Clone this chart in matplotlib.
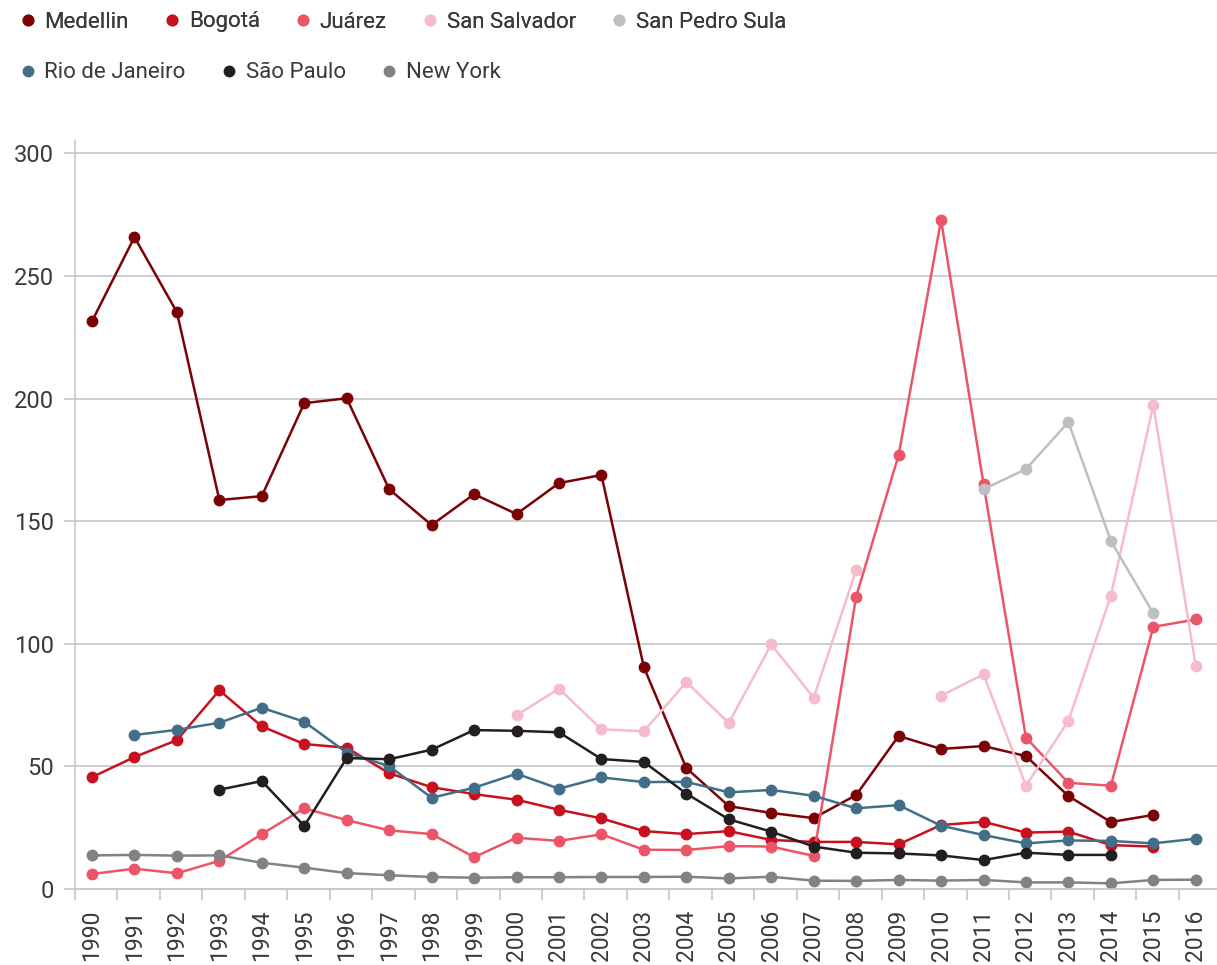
"""Homicide rates per 100k, selected cities 1990-2016."""
import numpy as np
import matplotlib
matplotlib.use("Agg")
import matplotlib.pyplot as plt
from matplotlib.lines import Line2D

plt.rcParams["font.family"] = ["Roboto", "DejaVu Sans"]

years = [str(y) for y in range(1990, 2017)]
N = None

medellin = [231.5, 265.8, 235.2, 158.6, 160.2, 198.1, 200.1, 163.0, 148.4, 161.0,
            152.9, 165.5, 168.8, 90.4, 49.3, 33.8, 31.0, 28.9, 38.3, 62.4,
            57.1, 58.3, 54.2, 37.9, 27.3, 30.2, N]
bogota = [45.6, 53.8, 60.7, 81.0, 66.3, 59.1, 57.6, 47.2, 41.5, 38.7,
          36.4, 32.3, 28.8, 23.6, 22.4, 23.6, 20.0, 19.2, 19.2, 18.2,
          26.1, 27.4, 23.0, 23.4, 17.9, 17.3, N]
juarez = [6.1, 8.3, 6.4, 11.5, 22.4, 32.9, 28.1, 23.9, 22.4, 13.0,
          20.9, 19.6, 22.3, 16.0, 15.9, 17.5, 17.3, 13.5, 119.2, 176.9,
          272.8, 165.1, 61.7, 43.3, 42.1, 106.9, 109.9]
san_salvador = [N, N, N, N, N, N, N, N, N, N,
                70.8, 81.7, 65.1, 64.3, 84.4, 67.7, 99.7, 78.0, 130.0, N,
                78.8, 87.5, 42.1, 68.6, 119.6, 197.3, 90.9]
san_pedro_sula = [N] * 21 + [163.0, 171.2, 190.4, 141.9, 112.4, N]
rio = [N, 62.8, 64.9, 67.8, 73.9, 68.2, 55.6, 50.1, 37.2, 41.3,
       47.0, 40.9, 45.5, 43.6, 43.7, 39.4, 40.4, 38.0, 32.9, 34.2,
       25.8, 22.0, 18.6, 19.8, 19.6, 18.6, 20.5]
sao_paulo = [N, N, N, 40.5, 44.0, 25.7, 53.4, 52.9, 56.8, 64.8,
             64.5, 63.9, 53.0, 51.8, 38.9, 28.4, 23.4, 17.3, 14.8, 14.5,
             13.7, 11.8, 14.8, 13.9, 13.9, N, N]
new_york = [13.7, 13.9, 13.6, 13.7, 10.7, 8.7, 6.5, 5.6, 4.9, 4.6,
            4.8, 4.8, 4.9, 4.9, 5.0, 4.3, 5.0, 3.4, 3.3, 3.7,
            3.4, 3.7, 2.7, 2.7, 2.3, 3.7, 3.8]

series = [
    ("Medellin", medellin, "#7b0306"),
    ("Bogotá", bogota, "#c8111f"),
    ("Juárez", juarez, "#ec5568"),
    ("San Salvador", san_salvador, "#f6bccb"),
    ("San Pedro Sula", san_pedro_sula, "#bfbfc3"),
    ("Rio de Janeiro", rio, "#426f87"),
    ("São Paulo", sao_paulo, "#231f20"),
    ("New York", new_york, "#828286"),
]

GRID = "#c6c6ca"
TXT = "#3a3a3a"

fig = plt.figure(figsize=(12.17, 9.65), dpi=100)
ax = fig.add_axes([75 / 1217, 1 - 889 / 965, 1 - 75 / 1217, (889 - 141) / 965])

x = np.arange(len(years))
for name, vals, col in series:
    y = np.array([np.nan if v is None else v for v in vals], dtype=float)
    ax.plot(x, y, color=col, lw=1.8, marker="o", ms=7.5, mec=col, mfc=col,
            label=name, solid_joinstyle="round")

ax.set_xlim(-0.4, 26.5)
ax.set_ylim(0, 305)
ax.set_yticks([0, 50, 100, 150, 200, 250, 300])
ax.grid(axis="y", color=GRID, lw=1.2)
ax.set_axisbelow(True)
ax.tick_params(axis="y", length=8, width=1.2, color=GRID, pad=7,
               labelsize=17, labelcolor=TXT)

ax.set_xticks(x)
ax.set_xticklabels(years, rotation=90, fontsize=16.5, color=TXT)
ax.tick_params(axis="x", which="major", length=0, pad=15)
ax.set_xticks(np.arange(len(years)) - 0.4, minor=True)
ax.tick_params(axis="x", which="minor", length=8, width=1.2, color=GRID)

for s in ["top", "right"]:
    ax.spines[s].set_visible(False)
for s in ["left", "bottom"]:
    ax.spines[s].set_color(GRID)
    ax.spines[s].set_linewidth(1.2)

# legend in two rows like the original
def make_legend(items, ypos):
    handles = [Line2D([], [], ls="none", marker="o", ms=7.5, color=c) for _, _, c in items]
    leg = fig.legend(handles, [n for n, _, _ in items], loc="center left",
                     bbox_to_anchor=(21 / 1217, ypos), ncol=len(items), frameon=False,
                     fontsize=16, handlelength=0.6, handletextpad=0.45,
                     columnspacing=1.65, borderaxespad=0, borderpad=0)
    for t in leg.get_texts():
        t.set_color(TXT)
    return leg

fig.add_artist(make_legend(series[:5], 1 - 22 / 965))
make_legend(series[5:], 1 - 73 / 965)

fig.savefig("out.png", dpi=100)
